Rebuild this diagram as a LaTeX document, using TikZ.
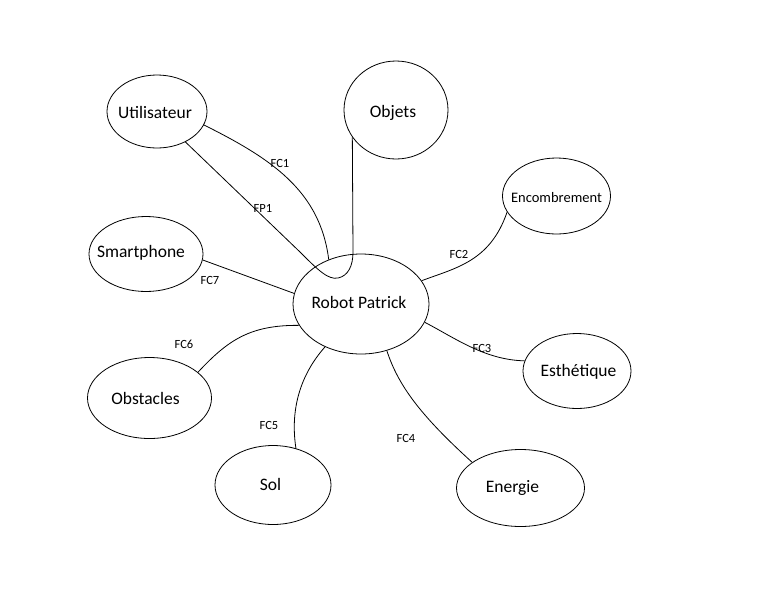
\documentclass[tikz,border=0pt]{standalone}
\usepackage{fontspec}
\setmainfont{Carlito}
\usetikzlibrary{shapes.geometric}
% #1 horizontal shift (pt), #2 raise (pt), #3 text
\newcommand\zt[3]{\makebox[0pt]{\kern#1pt\kern#1pt\raisebox{#2pt}{#3}}}
\begin{document}
\begin{tikzpicture}[x=1pt,y=-1pt,
  elt/.style={draw, ellipse, line width=0.8pt, inner sep=0pt, text height=11.5pt, text depth=0pt,
    font=\fontsize{17.5}{20}\selectfont},
  link/.style={line width=0.8pt},
  lbl/.style={font=\fontsize{12.5}{14}\selectfont, inner sep=0pt}]
\useasboundingbox (0,0) rectangle (768,614);
\node[elt, minimum width=100pt, minimum height=73pt] (u) at (157,111.5) {\zt{-2}{-1}{Utilisateur}};
\node[elt, minimum width=104pt, minimum height=98pt] (o) at (396,110) {\zt{-3}{-2.2}{Objets}};
\node[elt, minimum width=114pt, minimum height=75pt] (sm) at (146,254) {\zt{-5}{2}{Smartphone}};
\node[elt, minimum width=136pt, minimum height=100pt] (r) at (361,304) {\zt{-2}{1.5}{Robot Patrick}};
\node[elt, minimum width=108pt, minimum height=76pt, font=\fontsize{14.5}{17}\selectfont] (e) at (556.5,196) {\zt{0}{-0.5}{Encombrement}};
\node[elt, minimum width=108pt, minimum height=75pt] (es) at (577,371) {\zt{1.5}{0}{Esthétique}};
\node[elt, minimum width=128pt, minimum height=77pt] (en) at (520.5,488) {\zt{-8}{1}{Energie}};
\node[elt, minimum width=124pt, minimum height=81pt] (ob) at (149.5,398) {\zt{-4}{-0.5}{Obstacles}};
\node[elt, minimum width=116pt, minimum height=79pt] (s) at (273,485) {\zt{-2.5}{0}{Sol}};

% FP1 : Utilisateur - Robot - Objets
\draw[link] (u.-47) -- (300,252) .. controls (318,270) and (328,280) .. (338,278)
  .. controls (348,276) and (353,266) .. (353,252) -- (o.-148);
% FC1
\draw[link] (u.-16) .. controls (270,158) and (320,190) .. (r.126);
% FC7
\draw[link] (sm.-6) -- (r.171);
% FC2
\draw[link] (r.21) .. controls (455,268) and (490,262) .. (e.-162);
% FC3
\draw[link] (r.-16) .. controls (455,338) and (485,360) .. (es.169);
% FC4
\draw[link] (r.-61) .. controls (398,385) and (420,415) .. (en.152);
% FC5
\draw[link] (r.-130) .. controls (300,375) and (290,410) .. (s.58);
% FC6
\draw[link] (r.-161) .. controls (250,325) and (228,340) .. (ob.28);

\node[lbl] (l1) at (280,163.5) {FC1};
\node[lbl] (l0) at (263,208) {FP1};
\node[lbl] (l7) at (210,280) {FC7};
\node[lbl] (l2) at (459,254) {FC2};
\node[lbl] (l3) at (482,348) {FC3};
\node[lbl] (l4) at (406,438) {FC4};
\node[lbl] (l5) at (269,425) {FC5};
\node[lbl] (l6) at (184,344) {FC6};
\end{tikzpicture}
\end{document}
